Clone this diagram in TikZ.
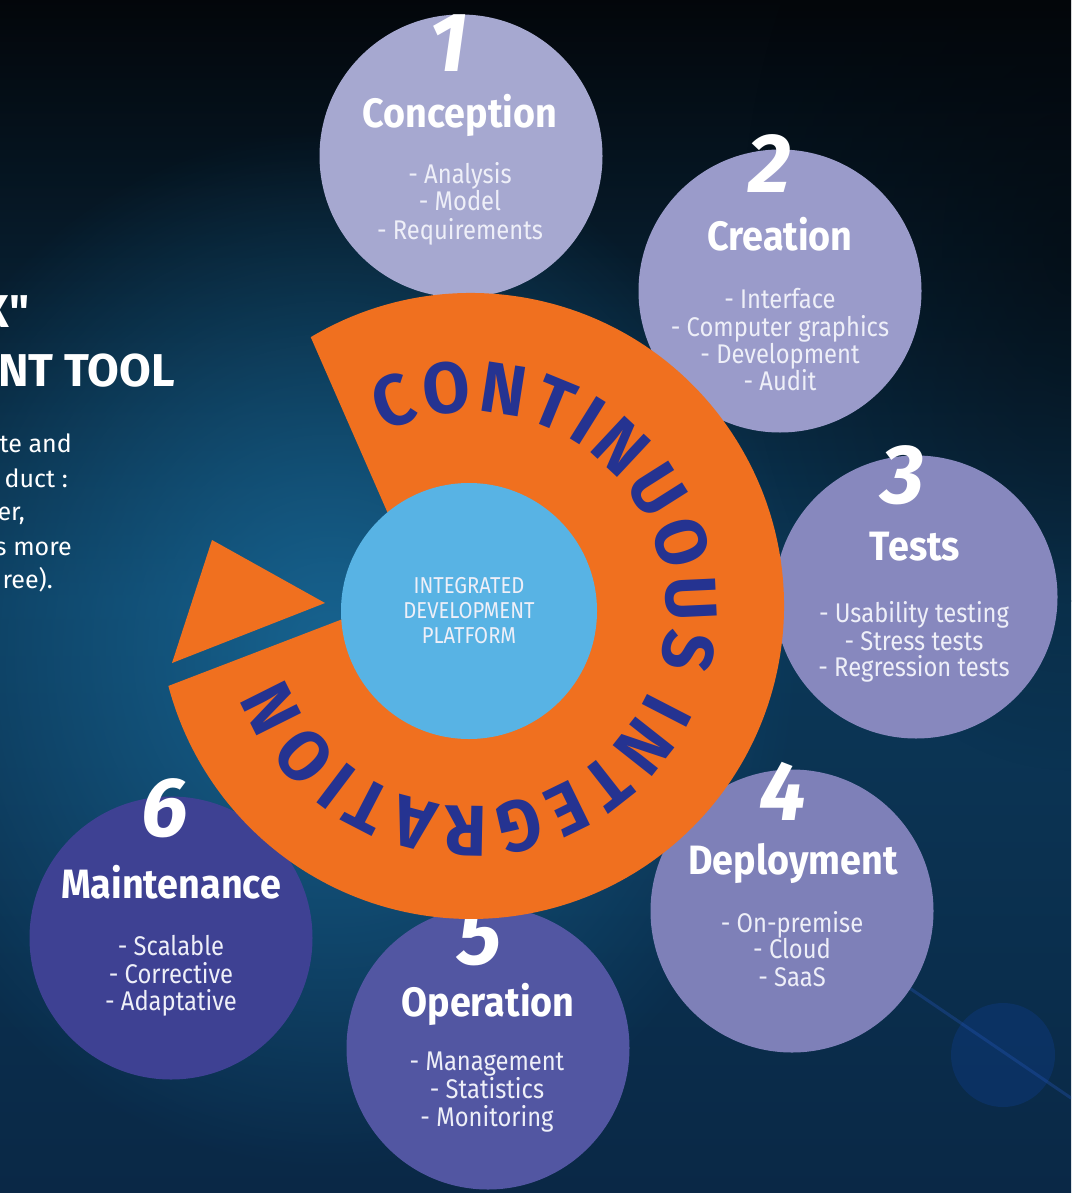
\documentclass[tikz,border=0pt]{standalone}
\usepackage{fontspec}
\setmainfont{Fira Sans}
\newfontfamily\titlefont[FakeStretch=0.92]{Fira Sans}
\newfontfamily\itemfont[FakeStretch=0.88]{Fira Sans}
\newfontfamily\arcfont[FakeStretch=0.95]{Fira Sans}
\newfontfamily\leftfont[Ligatures=TeXOff]{Fira Sans}
\usetikzlibrary{decorations.text,fadings}

\definecolor{bgtop}{HTML}{03060A}
\definecolor{bgmid}{HTML}{0B3858}
\definecolor{bgbot}{HTML}{0A2846}
\definecolor{glow}{HTML}{1A6E9E}
\definecolor{cA}{HTML}{A6A8D0}
\definecolor{cB}{HTML}{9A9BCA}
\definecolor{cC}{HTML}{8788BE}
\definecolor{cD}{HTML}{7E80B8}
\definecolor{cE}{HTML}{5256A2}
\definecolor{cF}{HTML}{3E4193}
\definecolor{corange}{HTML}{F0701F}
\definecolor{cblue}{HTML}{58B3E4}
\definecolor{ringtext}{HTML}{253391}
\definecolor{itemwhite}{HTML}{EEEFF8}
\definecolor{deco}{HTML}{0C3673}
\definecolor{streak}{HTML}{2455B5}

\tikzfading[name=glowfade, inner color=transparent!0, outer color=transparent!100]

\begin{document}
\begin{tikzpicture}[x=1pt,y=-1pt,
  phase/.style={circle, minimum size=283pt, inner sep=0pt, draw=none},
  numtxt/.style={anchor=base, text=white, inner sep=0pt, font=\fontsize{84}{84}\selectfont\bfseries\itshape},
  titletxt/.style={anchor=base, text=white, inner sep=0pt, font=\titlefont\fontsize{41}{41}\selectfont\bfseries},
  itemtxt/.style={anchor=base, text=itemwhite, inner sep=0pt, font=\itemfont\fontsize{27}{27}\selectfont},
  coretxt/.style={circle, fill=cblue, minimum size=256pt, inner sep=0pt, align=center, text=itemwhite,
     font=\itemfont\fontsize{23}{25}\selectfont},
  lefttitle/.style={anchor=base east, text=white, inner sep=0pt, font=\leftfont\fontsize{46}{46}\selectfont\bfseries},
  lefttxt/.style={anchor=base east, text=white, inner sep=0pt, font=\leftfont\fontsize{25}{25}\selectfont}
]
\useasboundingbox (0,0) rectangle (1071,1193);
\clip (0,0) rectangle (1071,1193);

% background
\shade[top color=bgtop, bottom color=bgmid] (0,-1) rectangle (1071,601);
\shade[top color=bgmid, bottom color=bgbot] (0,600) rectangle (1071,1194);
\fill[glow, opacity=0.8, path fading=glowfade] (330,650) ellipse[x radius=470, y radius=520];
\fill[bgtop, opacity=0.55, path fading=glowfade] (1071,250) ellipse[x radius=330, y radius=520];

% decoration bottom right
\fill[deco, opacity=0.6] (1003,1055) circle[radius=52];
\draw[streak, line width=3pt, opacity=0.35, line cap=round] (905,985) -- (1071,1098);

% left text fragments
\node[lefttitle] (l1) at (30,327) {X"};
\node[lefttitle] (l2) at (175,386) {NT TOOL};
\node[lefttxt] (l3) at (72,452) {te and};
\node[lefttxt] (l4) at (68,487) {duct :};
\node[lefttxt] (l5) at (25,520) {er,};
\node[lefttxt] (l6) at (72,555) {s more};
\node[lefttxt] (l7) at (53,588) {ree).};

% six phases
\node[phase, fill=cA] (c1) at (461,156) {};
\node[phase, fill=cB] (c2) at (780,291) {};
\node[phase, fill=cC] (c3) at (916,597) {};
\node[phase, fill=cD] (c4) at (792,911) {};
\node[phase, fill=cE] (c5) at (488,1048) {};
\node[phase, fill=cF] (c6) at (171,938) {};

\node[numtxt] (n1) at (449,72) {1};
\node[titletxt] (t1) at (460,128) {Conception};
\node[itemtxt] (i1a) at (460,183) {- Analysis};
\node[itemtxt] (i1b) at (460,211) {- Model};
\node[itemtxt] (i1c) at (460,239) {- Requirements};

\node[numtxt] (n2) at (770,193) {2};
\node[titletxt] (t2) at (780,250) {Creation};
\node[itemtxt] (i2a) at (780,308) {- Interface};
\node[itemtxt] (i2b) at (780,336) {- Computer graphics};
\node[itemtxt] (i2c) at (780,363) {- Development};
\node[itemtxt] (i2d) at (780,390) {- Audit};

\node[numtxt] (n3) at (903,503) {3};
\node[titletxt] (t3) at (915,560) {Tests};
\node[itemtxt] (i3a) at (914,622) {- Usability testing};
\node[itemtxt] (i3b) at (914,650) {- Stress tests};
\node[itemtxt] (i3c) at (914,676) {- Regression tests};

\node[numtxt] (n4) at (783,820) {4};
\node[titletxt] (t4) at (793,874) {Deployment};
\node[itemtxt] (i4a) at (792,932) {- On-premise};
\node[itemtxt] (i4b) at (792,958) {- Cloud};
\node[itemtxt] (i4c) at (792,986) {- SaaS};

\node[numtxt] (n5) at (480,964) {5};
\node[titletxt] (t5) at (488,1016) {Operation};
\node[itemtxt] (i5a) at (487,1070) {- Management};
\node[itemtxt] (i5b) at (487,1098) {- Statistics};
\node[itemtxt] (i5c) at (487,1126) {- Monitoring};

\node[numtxt] (n6) at (165,836) {6};
\node[titletxt] (t6) at (171,898) {Maintenance};
\node[itemtxt] (i6a) at (171,955) {- Scalable};
\node[itemtxt] (i6b) at (171,983) {- Corrective};
\node[itemtxt] (i6c) at (171,1010) {- Adaptative};

% orange ring and arrow head
\coordinate (ringc) at (471,606);
\coordinate (cut) at (421,589);
\fill[corange] (ringc) ++(-120.8:313) arc[start angle=-120.8, end angle=165.2, radius=313] -- (cut) -- cycle;
\fill[corange] (212,540) -- (325,603) -- (172,663) -- cycle;

% core
\node[coretxt] (core) at (469,611) {INTEGRATED\\DEVELOPMENT\\PLATFORM};

% ring text
\coordinate (textc) at (470,609);
\path[decorate, decoration={text along path, text align={fit to path},
  text={|\arcfont\fontsize{72}{72}\selectfont\bfseries\color{ringtext}|CONTINUOUS INTEGRATION}}]
  (textc) ++(-116:197) arc[start angle=-116, end angle=160, radius=197];
\end{tikzpicture}
\end{document}
